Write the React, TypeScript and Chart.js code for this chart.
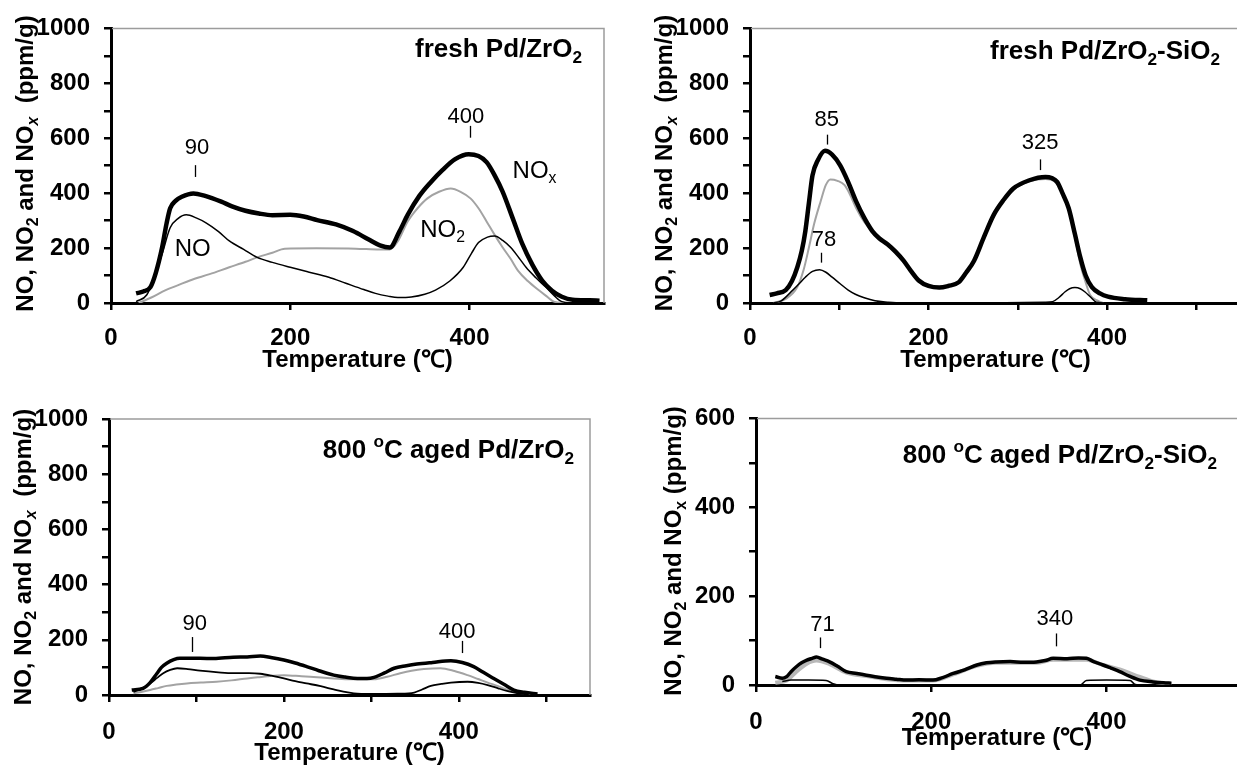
import React, { useEffect, useRef } from "react";
import { Chart, registerables } from "chart.js";

Chart.register(...registerables);

type Pt = { x: number; y: number };
type Seg = { t: string; k?: "sub" | "sup"; it?: boolean };

const FAM = "'Liberation Sans', Arial, Helvetica, sans-serif";

// ---------------- data (temperature °C, ppm/g) ----------------
// Panel 1: fresh Pd/ZrO2
const p1NOx: Pt[] = [
  { x: 28, y: 35 }, { x: 36, y: 42 }, { x: 44, y: 58 }, { x: 50, y: 110 }, { x: 57, y: 202 }, { x: 62, y: 290 },
  { x: 66, y: 345 }, { x: 72, y: 372 }, { x: 79, y: 387 }, { x: 92, y: 399 }, { x: 105, y: 390 }, { x: 123, y: 369 },
  { x: 135, y: 352 }, { x: 150, y: 336 }, { x: 165, y: 326 }, { x: 180, y: 320 }, { x: 200, y: 321 }, { x: 215, y: 315 },
  { x: 230, y: 302 }, { x: 251, y: 286 }, { x: 270, y: 262 }, { x: 287, y: 232 }, { x: 300, y: 210 }, { x: 311, y: 202 },
  { x: 322, y: 262 }, { x: 331, y: 321 }, { x: 344, y: 390 }, { x: 357, y: 441 }, { x: 370, y: 485 }, { x: 384, y: 524 },
  { x: 399, y: 542 }, { x: 410, y: 535 }, { x: 419, y: 513 }, { x: 428, y: 465 }, { x: 437, y: 405 }, { x: 448, y: 310 },
  { x: 459, y: 214 }, { x: 470, y: 140 }, { x: 481, y: 82 }, { x: 492, y: 45 }, { x: 503, y: 23 }, { x: 515, y: 12 },
  { x: 534, y: 10 }, { x: 545, y: 8 },
];
const p1NO: Pt[] = [
  { x: 28, y: 5 }, { x: 40, y: 30 }, { x: 50, y: 110 }, { x: 57, y: 178 }, { x: 66, y: 274 }, { x: 75, y: 308 },
  { x: 84, y: 321 }, { x: 95, y: 310 }, { x: 106, y: 292 }, { x: 120, y: 260 }, { x: 132, y: 226 }, { x: 148, y: 195 },
  { x: 163, y: 166 }, { x: 180, y: 148 }, { x: 200, y: 130 }, { x: 220, y: 113 }, { x: 243, y: 94 }, { x: 262, y: 72 },
  { x: 282, y: 49 }, { x: 295, y: 35 }, { x: 309, y: 25 }, { x: 320, y: 20 }, { x: 335, y: 22 }, { x: 350, y: 32 },
  { x: 362, y: 47 }, { x: 378, y: 80 }, { x: 393, y: 130 }, { x: 402, y: 180 }, { x: 410, y: 220 }, { x: 420, y: 240 },
  { x: 428, y: 244 }, { x: 437, y: 228 }, { x: 446, y: 202 }, { x: 455, y: 165 }, { x: 463, y: 130 }, { x: 474, y: 92 },
  { x: 485, y: 58 }, { x: 495, y: 25 }, { x: 503, y: 5 }, { x: 516, y: 0 },
];
const p1NO2: Pt[] = [
  { x: 31, y: 0 }, { x: 45, y: 20 }, { x: 61, y: 47 }, { x: 75, y: 65 }, { x: 88, y: 82 }, { x: 110, y: 105 },
  { x: 132, y: 130 }, { x: 150, y: 150 }, { x: 163, y: 166 }, { x: 180, y: 183 }, { x: 194, y: 198 }, { x: 229, y: 199 },
  { x: 273, y: 198 }, { x: 300, y: 195 }, { x: 311, y: 195 }, { x: 320, y: 225 }, { x: 331, y: 297 }, { x: 342, y: 345 },
  { x: 353, y: 381 }, { x: 366, y: 405 }, { x: 379, y: 417 }, { x: 390, y: 405 }, { x: 401, y: 381 }, { x: 410, y: 345 },
  { x: 419, y: 297 }, { x: 428, y: 248 }, { x: 437, y: 202 }, { x: 446, y: 160 }, { x: 454, y: 118 }, { x: 465, y: 80 },
  { x: 477, y: 47 }, { x: 487, y: 22 }, { x: 494, y: 5 }, { x: 507, y: 0 },
];

// Panel 2: fresh Pd/ZrO2-SiO2
const p2NOx: Pt[] = [
  { x: 22, y: 29 }, { x: 30, y: 35 }, { x: 40, y: 47 }, { x: 47, y: 80 }, { x: 53, y: 130 }, { x: 58, y: 190 },
  { x: 62, y: 262 }, { x: 66, y: 365 }, { x: 70, y: 465 }, { x: 76, y: 520 }, { x: 84, y: 554 }, { x: 92, y: 540 },
  { x: 101, y: 501 }, { x: 110, y: 440 }, { x: 119, y: 369 }, { x: 128, y: 310 }, { x: 137, y: 262 }, { x: 145, y: 235 },
  { x: 154, y: 214 }, { x: 163, y: 187 }, { x: 172, y: 154 }, { x: 180, y: 118 }, { x: 189, y: 82 }, { x: 200, y: 62 },
  { x: 212, y: 56 }, { x: 222, y: 62 }, { x: 234, y: 76 }, { x: 242, y: 110 }, { x: 251, y: 154 }, { x: 262, y: 240 },
  { x: 273, y: 321 }, { x: 284, y: 375 }, { x: 295, y: 417 }, { x: 313, y: 447 }, { x: 331, y: 459 }, { x: 338, y: 455 },
  { x: 344, y: 441 }, { x: 350, y: 400 }, { x: 357, y: 345 }, { x: 364, y: 250 }, { x: 370, y: 166 }, { x: 376, y: 100 },
  { x: 383, y: 58 }, { x: 392, y: 35 }, { x: 401, y: 23 }, { x: 420, y: 14 }, { x: 445, y: 10 },
];
const p2NO2: Pt[] = [
  { x: 26, y: 0 }, { x: 40, y: 15 }, { x: 53, y: 58 }, { x: 60, y: 120 }, { x: 66, y: 202 }, { x: 72, y: 290 },
  { x: 79, y: 369 }, { x: 85, y: 430 }, { x: 90, y: 450 }, { x: 98, y: 445 }, { x: 106, y: 429 }, { x: 112, y: 395 },
  { x: 119, y: 345 }, { x: 128, y: 295 }, { x: 137, y: 262 }, { x: 145, y: 235 }, { x: 154, y: 210 }, { x: 163, y: 183 },
  { x: 172, y: 150 }, { x: 180, y: 115 }, { x: 189, y: 80 }, { x: 200, y: 60 }, { x: 212, y: 54 }, { x: 222, y: 60 },
  { x: 234, y: 74 }, { x: 242, y: 108 }, { x: 251, y: 150 }, { x: 262, y: 236 }, { x: 273, y: 318 }, { x: 284, y: 372 },
  { x: 295, y: 413 }, { x: 313, y: 443 }, { x: 331, y: 452 }, { x: 340, y: 445 }, { x: 348, y: 415 }, { x: 357, y: 340 },
  { x: 364, y: 240 }, { x: 370, y: 142 }, { x: 376, y: 75 }, { x: 381, y: 29 }, { x: 390, y: 8 }, { x: 396, y: 0 },
];
const p2NO: Pt[] = [
  { x: 26, y: 0 }, { x: 35, y: 8 }, { x: 48, y: 47 }, { x: 55, y: 70 }, { x: 62, y: 94 }, { x: 70, y: 115 },
  { x: 78, y: 121 }, { x: 85, y: 112 }, { x: 92, y: 94 }, { x: 101, y: 70 }, { x: 110, y: 47 }, { x: 118, y: 32 },
  { x: 128, y: 19 }, { x: 140, y: 8 }, { x: 154, y: 3 }, { x: 170, y: 0 }, { x: 250, y: 0 }, { x: 330, y: 3 },
  { x: 339, y: 5 }, { x: 346, y: 20 }, { x: 353, y: 41 }, { x: 358, y: 52 }, { x: 364, y: 56 }, { x: 370, y: 52 },
  { x: 375, y: 41 }, { x: 382, y: 20 }, { x: 388, y: 3 }, { x: 401, y: 0 },
];

// Panel 3: 800 °C aged Pd/ZrO2
const p3NOx: Pt[] = [
  { x: 26, y: 18 }, { x: 39, y: 24 }, { x: 47, y: 45 }, { x: 55, y: 79 }, { x: 60, y: 100 }, { x: 66, y: 115 },
  { x: 74, y: 128 }, { x: 81, y: 133 }, { x: 104, y: 133 }, { x: 120, y: 132 }, { x: 142, y: 137 }, { x: 158, y: 138 },
  { x: 173, y: 141 }, { x: 185, y: 136 }, { x: 200, y: 127 }, { x: 213, y: 116 }, { x: 226, y: 103 }, { x: 240, y: 88 },
  { x: 257, y: 72 }, { x: 270, y: 65 }, { x: 284, y: 60 }, { x: 295, y: 60 }, { x: 303, y: 64 }, { x: 315, y: 80 },
  { x: 326, y: 97 }, { x: 340, y: 106 }, { x: 352, y: 112 }, { x: 370, y: 118 }, { x: 391, y: 124 }, { x: 404, y: 118 },
  { x: 417, y: 103 }, { x: 428, y: 82 }, { x: 440, y: 60 }, { x: 452, y: 38 }, { x: 463, y: 18 }, { x: 475, y: 10 },
  { x: 490, y: 4 },
];
const p3NO: Pt[] = [
  { x: 28, y: 11 }, { x: 38, y: 25 }, { x: 47, y: 42 }, { x: 55, y: 62 }, { x: 62, y: 79 }, { x: 70, y: 91 },
  { x: 78, y: 97 }, { x: 90, y: 94 }, { x: 104, y: 88 }, { x: 125, y: 82 }, { x: 142, y: 79 }, { x: 160, y: 79 },
  { x: 173, y: 77 }, { x: 186, y: 70 }, { x: 200, y: 60 }, { x: 213, y: 50 }, { x: 226, y: 42 }, { x: 242, y: 32 },
  { x: 257, y: 20 }, { x: 268, y: 12 }, { x: 280, y: 6 }, { x: 300, y: 4 }, { x: 330, y: 5 }, { x: 349, y: 9 },
  { x: 358, y: 20 }, { x: 368, y: 33 }, { x: 380, y: 40 }, { x: 391, y: 45 }, { x: 410, y: 48 }, { x: 422, y: 44 },
  { x: 433, y: 36 }, { x: 445, y: 24 }, { x: 456, y: 14 }, { x: 468, y: 6 }, { x: 480, y: 2 },
];
const p3NO2: Pt[] = [
  { x: 28, y: 6 }, { x: 38, y: 12 }, { x: 47, y: 18 }, { x: 56, y: 25 }, { x: 66, y: 33 }, { x: 77, y: 38 },
  { x: 89, y: 42 }, { x: 105, y: 45 }, { x: 123, y: 48 }, { x: 140, y: 53 }, { x: 158, y: 60 }, { x: 170, y: 64 },
  { x: 181, y: 68 }, { x: 200, y: 72 }, { x: 220, y: 68 }, { x: 238, y: 64 }, { x: 257, y: 60 }, { x: 276, y: 57 },
  { x: 303, y: 57 }, { x: 318, y: 66 }, { x: 333, y: 79 }, { x: 346, y: 88 }, { x: 360, y: 94 }, { x: 379, y: 97 },
  { x: 395, y: 87 }, { x: 410, y: 72 }, { x: 422, y: 58 }, { x: 433, y: 45 }, { x: 445, y: 32 }, { x: 456, y: 18 },
  { x: 468, y: 8 }, { x: 482, y: 2 },
];

// Panel 4: 800 °C aged Pd/ZrO2-SiO2
const p4NOx: Pt[] = [
  { x: 22, y: 19 }, { x: 30, y: 15 }, { x: 35, y: 19 }, { x: 40, y: 30 }, { x: 46, y: 41 }, { x: 52, y: 50 },
  { x: 58, y: 56 }, { x: 64, y: 60 }, { x: 69, y: 63 }, { x: 76, y: 58 }, { x: 84, y: 52 }, { x: 93, y: 42 },
  { x: 103, y: 30 }, { x: 115, y: 26 }, { x: 126, y: 22 }, { x: 138, y: 18 }, { x: 149, y: 15 }, { x: 160, y: 13 },
  { x: 172, y: 11 }, { x: 186, y: 12 }, { x: 202, y: 11 }, { x: 212, y: 16 }, { x: 225, y: 26 }, { x: 238, y: 34 },
  { x: 252, y: 45 }, { x: 263, y: 50 }, { x: 274, y: 52 }, { x: 290, y: 53 }, { x: 305, y: 51 }, { x: 320, y: 52 },
  { x: 330, y: 55 }, { x: 339, y: 60 }, { x: 355, y: 59 }, { x: 368, y: 61 }, { x: 377, y: 60 }, { x: 386, y: 52 },
  { x: 396, y: 45 }, { x: 405, y: 38 }, { x: 415, y: 30 }, { x: 426, y: 20 }, { x: 438, y: 11 }, { x: 453, y: 7 },
  { x: 465, y: 5 }, { x: 474, y: 4 },
];
const p4NO2: Pt[] = [
  { x: 22, y: 5 }, { x: 35, y: 10 }, { x: 46, y: 30 }, { x: 58, y: 48 }, { x: 69, y: 55 }, { x: 84, y: 47 },
  { x: 103, y: 28 }, { x: 126, y: 20 }, { x: 149, y: 13 }, { x: 172, y: 10 }, { x: 202, y: 10 }, { x: 225, y: 24 },
  { x: 252, y: 43 }, { x: 274, y: 50 }, { x: 320, y: 50 }, { x: 339, y: 57 }, { x: 377, y: 57 }, { x: 396, y: 45 },
  { x: 415, y: 35 }, { x: 438, y: 18 }, { x: 453, y: 8 }, { x: 474, y: 2 },
];
const p4NO: Pt[] = [
  { x: 30, y: 8 }, { x: 40, y: 11 }, { x: 60, y: 11 }, { x: 80, y: 10 }, { x: 88, y: 3 }, { x: 95, y: 0 },
  { x: 370, y: 0 }, { x: 377, y: 10 }, { x: 400, y: 11 }, { x: 427, y: 10 }, { x: 432, y: 2 }, { x: 440, y: 0 },
];

// tick label values
const yLabelStep = 200;
const xLabelStep = 200;

// ---------------- text helpers ----------------
function segFont(size: number, weight: string, s: Seg) {
  const sz = s.k ? size * 0.66 : size;
  return `${s.it ? "italic " : ""}${weight} ${sz}px ${FAM}`;
}
function drawRich(
  ctx: CanvasRenderingContext2D,
  segs: Seg[],
  x: number,
  y: number,
  size: number,
  weight: string,
  align: "left" | "center" | "right",
  rot = 0
) {
  ctx.save();
  ctx.translate(x, y);
  if (rot) ctx.rotate(rot);
  let w = 0;
  for (const s of segs) {
    ctx.font = segFont(size, weight, s);
    w += ctx.measureText(s.t).width;
  }
  let cx = align === "left" ? 0 : align === "center" ? -w / 2 : -w;
  const base = size * 0.36;
  ctx.textBaseline = "alphabetic";
  ctx.textAlign = "left";
  ctx.fillStyle = "#000";
  for (const s of segs) {
    ctx.font = segFont(size, weight, s);
    const dy = s.k === "sub" ? size * 0.22 : s.k === "sup" ? -size * 0.42 : 0;
    ctx.fillText(s.t, cx, base + dy);
    cx += ctx.measureText(s.t).width;
  }
  ctx.restore();
}

// ---------------- panel configuration ----------------
type Series = { data: Pt[]; color: string; width: number };
type Mark = { label: string; x: number; tx: number; ty: number; y1: number; y2: number };
type CurveLabel = { segs: Seg[]; x: number; y: number };
type PanelCfg = {
  left: number; top: number; w: number; h: number;
  axL: number; axT: number; axR: number; axB: number;
  xMax: number; yMax: number; xStep: number;
  xTickPad: number; xTitleY: number;
  yTitleX: number; yTitle: Seg[];
  title: Seg[]; titleRight: number; titleY: number;
  rightFrame: boolean;
  marks: Mark[]; labels: CurveLabel[]; series: Series[];
};

const yTitleItalic: Seg[] = [
  { t: "NO, NO" }, { t: "2", k: "sub" }, { t: " and NO" }, { t: "x", k: "sub", it: true }, { t: "  (ppm/g)" },
];
const yTitlePlain: Seg[] = [
  { t: "NO, NO" }, { t: "2", k: "sub" }, { t: " and NO" }, { t: "x", k: "sub" }, { t: " (ppm/g)" },
];

const BLACK = "#000000";
const GRAY = "#a3a3a3";

const PANELS: PanelCfg[] = [
  {
    left: 0, top: 0, w: 620, h: 390,
    axL: 111, axT: 24, axR: 604, axB: 303,
    xMax: 550, yMax: 1000, xStep: 200,
    xTickPad: 14, xTitleY: 360,
    yTitleX: 24, yTitle: yTitleItalic,
    title: [{ t: "fresh Pd/ZrO" }, { t: "2", k: "sub" }], titleRight: 582, titleY: 48,
    rightFrame: true,
    marks: [
      { label: "90", x: 94, tx: 96, ty: 573, y1: 502, y2: 459 },
      { label: "400", x: 401, tx: 396, ty: 685, y1: 645, y2: 602 },
    ],
    labels: [
      { segs: [{ t: "NO" }], x: 71, y: 201 },
      { segs: [{ t: "NO" }, { t: "2", k: "sub" }], x: 345, y: 272 },
      { segs: [{ t: "NO" }, { t: "x", k: "sub" }], x: 448, y: 487 },
    ],
    series: [
      { data: p1NOx, color: BLACK, width: 4.5 },
      { data: p1NO, color: BLACK, width: 1.5 },
      { data: p1NO2, color: GRAY, width: 2 },
    ],
  },
  {
    left: 620, top: 0, w: 640, h: 390,
    axL: 750, axT: 23, axR: 1241, axB: 303,
    xMax: 550, yMax: 1000, xStep: 100,
    xTickPad: 14, xTitleY: 360,
    yTitleX: 663, yTitle: yTitleItalic,
    title: [{ t: "fresh Pd/ZrO" }, { t: "2", k: "sub" }, { t: "-SiO" }, { t: "2", k: "sub" }], titleRight: 1220, titleY: 50,
    rightFrame: false,
    marks: [
      { label: "85", x: 86, tx: 86, ty: 674, y1: 613, y2: 577 },
      { label: "325", x: 325, tx: 325, ty: 591, y1: 523, y2: 484 },
      { label: "78", x: 80, tx: 83, ty: 237, y1: 183, y2: 147 },
    ],
    labels: [],
    series: [
      { data: p2NOx, color: BLACK, width: 4.5 },
      { data: p2NO, color: BLACK, width: 1.5 },
      { data: p2NO2, color: GRAY, width: 2 },
    ],
  },
  {
    left: 0, top: 390, w: 620, h: 379,
    axL: 109, axT: 419, axR: 590, axB: 695,
    xMax: 550, yMax: 1000, xStep: 100,
    xTickPad: 16, xTitleY: 753,
    yTitleX: 22, yTitle: yTitleItalic,
    title: [{ t: "800 " }, { t: "o", k: "sup" }, { t: "C aged Pd/ZrO" }, { t: "2", k: "sub" }], titleRight: 574, titleY: 449,
    rightFrame: true,
    marks: [
      { label: "90", x: 95, tx: 98, ty: 264, y1: 210, y2: 156 },
      { label: "400", x: 404, tx: 398, ty: 236, y1: 196, y2: 152 },
    ],
    labels: [],
    series: [
      { data: p3NOx, color: BLACK, width: 3.5 },
      { data: p3NO, color: BLACK, width: 1.8 },
      { data: p3NO2, color: GRAY, width: 2 },
    ],
  },
  {
    left: 620, top: 390, w: 640, h: 379,
    axL: 756, axT: 417, axR: 1238, axB: 685,
    xMax: 550, yMax: 600, xStep: 200,
    xTickPad: 16, xTitleY: 738,
    yTitleX: 672, yTitle: yTitlePlain,
    title: [{ t: "800 " }, { t: "o", k: "sup" }, { t: "C aged Pd/ZrO" }, { t: "2", k: "sub" }, { t: "-SiO" }, { t: "2", k: "sub" }],
    titleRight: 1217, titleY: 454,
    rightFrame: false,
    marks: [
      { label: "71", x: 73, tx: 76, ty: 139, y1: 107, y2: 83 },
      { label: "340", x: 342, tx: 341, ty: 152, y1: 116, y2: 87 },
    ],
    labels: [],
    series: [
      { data: p4NOx, color: BLACK, width: 3.5 },
      { data: p4NO, color: BLACK, width: 1.5 },
      { data: p4NO2, color: "#b8b8b8", width: 4 },
    ],
  },
];

// ---------------- chart component ----------------
function Panel({ cfg }: { cfg: PanelCfg }) {
  const ref = useRef<HTMLCanvasElement | null>(null);
  useEffect(() => {
    const canvas = ref.current;
    if (!canvas) return;
    const tickFont = { family: FAM, size: 24, weight: "bold" as const };
    const overlay = {
      id: "overlay",
      afterDraw(chart: any) {
        const ctx: CanvasRenderingContext2D = chart.ctx;
        const { left, top, right, bottom } = chart.chartArea;
        const xs = chart.scales.x;
        const ys = chart.scales.y;
        ctx.save();
        ctx.strokeStyle = "#9c9c9c";
        ctx.lineWidth = 1.5;
        ctx.beginPath();
        ctx.moveTo(left + 1, top);
        ctx.lineTo(right, top);
        if (cfg.rightFrame) ctx.lineTo(right, bottom);
        ctx.stroke();
        // peak marks
        ctx.strokeStyle = "#000";
        ctx.lineWidth = 1.3;
        for (const m of cfg.marks) {
          const px = Math.round(xs.getPixelForValue(m.x)) + 0.5;
          ctx.beginPath();
          ctx.moveTo(px, ys.getPixelForValue(m.y1));
          ctx.lineTo(px, ys.getPixelForValue(m.y2));
          ctx.stroke();
          drawRich(ctx, [{ t: m.label }], xs.getPixelForValue(m.tx), ys.getPixelForValue(m.ty), 22, "normal", "center");
        }
        for (const l of cfg.labels) {
          drawRich(ctx, l.segs, xs.getPixelForValue(l.x), ys.getPixelForValue(l.y), 24, "normal", "left");
        }
        // panel title
        drawRich(ctx, cfg.title, cfg.titleRight - cfg.left, cfg.titleY - cfg.top, 26, "bold", "right");
        // y axis title
        drawRich(
          ctx, cfg.yTitle, cfg.yTitleX - cfg.left, (cfg.axT + cfg.axB) / 2 - cfg.top, 24, "bold", "center", -Math.PI / 2
        );
        ctx.restore();
      },
    };
    const xTitleSize = 24;
    const chart = new Chart(canvas, {
      type: "line",
      data: {
        datasets: cfg.series.map((s) => ({
          data: s.data,
          borderColor: s.color,
          borderWidth: s.width,
          pointRadius: 0,
          fill: false,
          cubicInterpolationMode: "monotone" as const,
        })),
      },
      options: {
        responsive: false,
        animation: false,
        events: [],
        layout: {
          padding: { left: 0, top: cfg.axT - cfg.top, right: cfg.left + cfg.w - cfg.axR, bottom: 0 },
        },
        plugins: { legend: { display: false }, tooltip: { enabled: false }, title: { display: false } },
        scales: {
          x: {
            type: "linear",
            min: 0,
            max: cfg.xMax,
            afterFit: (s: any) => {
              s.height = cfg.top + cfg.h - cfg.axB;
            },
            border: { display: true, color: "#000", width: 3 },
            grid: { drawOnChartArea: false, drawTicks: true, tickLength: 7, color: "#000", lineWidth: 2.5 },
            ticks: {
              stepSize: cfg.xStep,
              includeBounds: false,
              autoSkip: false,
              maxRotation: 0,
              padding: cfg.xTickPad,
              color: "#000",
              font: tickFont,
              callback: (v: any) => (Number(v) % xLabelStep === 0 ? String(v) : ""),
            },
            title: {
              display: true,
              text: "Temperature (℃)",
              color: "#000",
              font: { family: FAM, size: xTitleSize, weight: "bold" },
              padding: { top: 0, bottom: cfg.top + cfg.h - cfg.xTitleY - (xTitleSize * 1.2) / 2 },
            },
          },
          y: {
            type: "linear",
            min: 0,
            max: cfg.yMax,
            afterFit: (s: any) => {
              s.width = cfg.axL - cfg.left;
            },
            border: { display: true, color: "#000", width: 3 },
            grid: { drawOnChartArea: false, drawTicks: true, tickLength: 7, color: "#000", lineWidth: 2.5 },
            ticks: {
              stepSize: 100,
              autoSkip: false,
              padding: 14,
              color: "#000",
              font: tickFont,
              callback: (v: any) => (Number(v) % yLabelStep === 0 ? String(v) : ""),
            },
          },
        },
      },
      plugins: [overlay],
    } as any);
    return () => chart.destroy();
  }, [cfg]);
  return (
    <canvas
      ref={ref}
      width={cfg.w}
      height={cfg.h}
      style={{ position: "absolute", left: cfg.left, top: cfg.top, width: cfg.w, height: cfg.h, display: "block" }}
    />
  );
}

export default function App() {
  return (
    <div
      style={{
        position: "fixed",
        left: 0,
        top: 0,
        width: 1237,
        height: 769,
        overflow: "hidden",
        background: "#ffffff",
      }}
    >
      {PANELS.map((p, i) => (
        <Panel key={i} cfg={p} />
      ))}
    </div>
  );
}
